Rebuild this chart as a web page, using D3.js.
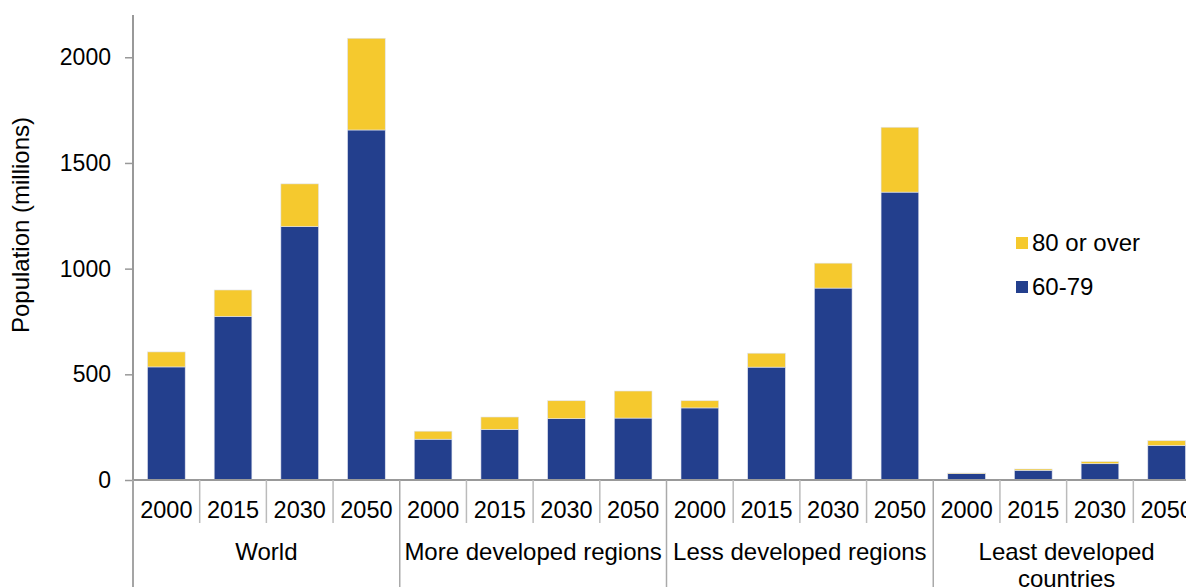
<!DOCTYPE html>
<html>
<head>
<meta charset="utf-8">
<script src="https://cdn.jsdelivr.net/npm/d3@7/dist/d3.min.js"></script>
<style>
  html, body { margin: 0; padding: 0; background: #fff; overflow: hidden; }
  text { font-family: "Liberation Sans", Arial, sans-serif; fill: #000; }
</style>
</head>
<body>
<svg id="chart" width="1186" height="587"></svg>
<script>
// ---- Data ----
const groups = ["World", "More developed regions", "Less developed regions", "Least developed countries"];
const years = ["2000", "2015", "2030", "2050"];
const seriesNames = ["60-79", "80 or over"];
// values per group, per year
const aged60to79 = [
  [535, 774, 1199, 1656],   // World
  [193, 239, 290, 293],     // More developed
  [341, 534, 908, 1362],    // Less developed
  [30, 46, 77, 163]         // Least developed
];
const aged80plus = [
  [71, 125, 202, 434],
  [38, 59, 85, 128],
  [34, 66, 118, 307],
  [3, 6, 10, 23]
];
const yTicks = [0, 500, 1000, 1500, 2000];
const colors = { "60-79": "#233f8d", "80 or over": "#f5c92e" };

// ---- Build table ----
const rows = [];
groups.forEach((g, gi) => years.forEach((y, yi) => {
  rows.push({ key: g + "|" + y, group: g, year: y, "60-79": aged60to79[gi][yi], "80 or over": aged80plus[gi][yi] });
}));

const svg = d3.select("#chart");
const x = d3.scaleBand().domain(rows.map(d => d.key)).range([133, 1200])
  .paddingInner(0.435).paddingOuter(0.2175);
const y = d3.scaleLinear().domain([0, 2200]).range([480, 15]);

const stack = d3.stack().keys(seriesNames);
const stacked = stack(rows);

// bars
svg.append("g").selectAll("g").data(stacked).join("g")
  .attr("fill", s => colors[s.key])
  .selectAll("rect").data(s => s).join("rect")
  .attr("x", d => x(d.data.key))
  .attr("width", x.bandwidth())
  .attr("y", d => y(d[1]))
  .attr("height", d => y(d[0]) - y(d[1]))
  .attr("stroke", "#dfe3ee").attr("stroke-width", 0.6);

const axisColor = "#999999";

// y axis
const yAxis = svg.append("g").attr("transform", "translate(133,0)")
  .call(d3.axisLeft(y).tickValues(yTicks).tickSize(8).tickPadding(14).tickFormat(d3.format("d")));
yAxis.select(".domain").attr("stroke", axisColor).attr("stroke-width", 2)
  .attr("d", "M0," + y(2200) + "V" + 587);
yAxis.selectAll(".tick line").attr("stroke", axisColor).attr("stroke-width", 1.5);
yAxis.selectAll(".tick text").attr("font-size", 23).attr("font-family", "Liberation Sans, Arial, sans-serif").attr("fill", "#000");

// x baseline
svg.append("line").attr("x1", 133).attr("x2", 1200).attr("y1", y(0)).attr("y2", y(0))
  .attr("stroke", axisColor).attr("stroke-width", 2);

// separators
const step = x.step();
const boundary = k => x(k) + x.bandwidth() / 2 - step / 2;
rows.forEach((r, i) => {
  const bx = boundary(r.key);
  const isGroupStart = i % 4 === 0;
  svg.append("line").attr("x1", bx).attr("x2", bx)
    .attr("y1", y(0)).attr("y2", isGroupStart ? 587 : 523)
    .attr("stroke", isGroupStart ? "#aaaaaa" : "#bbbbbb").attr("stroke-width", 1.5);
});

// year labels
svg.append("g").selectAll("text").data(rows).join("text")
  .attr("x", d => x(d.key) + x.bandwidth() / 2)
  .attr("y", 517.5)
  .attr("text-anchor", "middle").attr("font-size", 23.5)
  .text(d => d.year);

// group labels
const groupLabelLines = [["World"], ["More developed regions"], ["Less developed regions"], ["Least developed", "countries"]];
groups.forEach((g, gi) => {
  const first = rows[gi * 4].key, last = rows[gi * 4 + 3].key;
  const cx = (boundary(first) + boundary(last) + step) / 2;
  const t = svg.append("text").attr("x", cx).attr("y", 560)
    .attr("text-anchor", "middle").attr("font-size", 24);
  groupLabelLines[gi].forEach((line, li) => {
    t.append("tspan").attr("x", cx).attr("dy", li === 0 ? 0 : 27).text(line);
  });
});

// y label
svg.append("text").attr("transform", "translate(29,225) rotate(-90)")
  .attr("text-anchor", "middle").attr("font-size", 24)
  .text("Population (millions)");

// legend
const legendItems = ["80 or over", "60-79"];
const lg = svg.append("g");
legendItems.forEach((name, i) => {
  const ly = 237 + i * 44;
  lg.append("rect").attr("x", 1016).attr("y", ly).attr("width", 12).attr("height", 12).attr("fill", colors[name]);
  lg.append("text").attr("x", 1032).attr("y", ly + 13.5).attr("font-size", 24).text(name);
});
</script>
</body>
</html>
